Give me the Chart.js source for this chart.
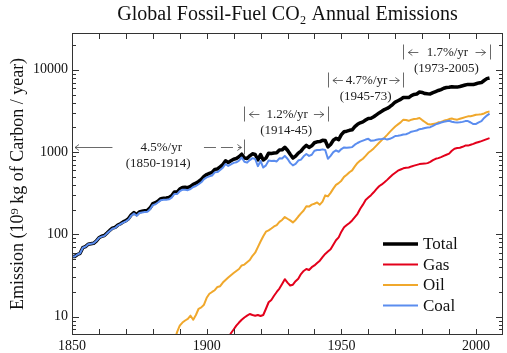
<!DOCTYPE html>
<html lang="en">
<head>
    <meta charset="UTF-8">
    <title>Global Fossil-Fuel CO2 Annual Emissions</title>
    <!-- Chart.js -->
    <script src="https://cdn.jsdelivr.net/npm/chart.js"></script>
    <style>
        html, body { margin: 0; padding: 0; background: #fff; }
        #wrap { width: 507px; height: 353px; }
    </style>
</head>
<body>
<div id="wrap"><canvas id="emissions" width="507" height="353"></canvas></div>
<script>
// --- Data (10^9 kg of carbon per year), one value per year from the start year ---
const totalStart = 1850;
const totalEmission = [
    54, 54, 57, 59, 69, 71, 76, 77, 78, 83,
    91, 95, 97, 104, 112, 119, 122, 130, 135, 142,
    147, 156, 173, 184, 174, 188, 191, 194, 196, 210,
    236, 243, 256, 272, 275, 277, 281, 295, 327, 327,
    356, 372, 374, 370, 383, 406, 419, 440, 465, 507,
    534, 552, 566, 617, 624, 663, 707, 784, 750, 785,
    819, 836, 879, 943, 850, 838, 901, 955, 936, 806,
    932, 803, 845, 970, 963, 975, 983, 1062, 1065, 1145,
    1053, 940, 847, 893, 973, 1027, 1130, 1209, 1142, 1192,
    1299, 1334, 1342, 1391, 1383, 1160, 1238, 1392, 1469, 1419,
    1630, 1768, 1796, 1841, 1865, 2043, 2177, 2270, 2330, 2454,
    2569, 2580, 2686, 2833, 2995, 3130, 3288, 3393, 3566, 3780,
    4053, 4208, 4376, 4614, 4623, 4596, 4864, 5026, 5087, 5369,
    5315, 5152, 5113, 5094, 5280, 5439, 5607, 5752, 5965, 6097,
    6127, 6217, 6164, 6162, 6266, 6398, 6542, 6651, 6643, 6610,
    6765, 6927, 6996, 7416, 7807, 7950
];

const coalStart = 1850;
const coalEmission = [
    54, 54, 57, 59, 69, 71, 76, 77, 78, 83,
    91, 94, 96, 103, 110, 117, 120, 128, 133, 139,
    144, 152, 169, 179, 169, 182, 185, 187, 189, 202,
    227, 233, 246, 261, 263, 264, 267, 280, 310, 309,
    335, 349, 350, 345, 356, 377, 388, 407, 430, 470,
    493, 508, 520, 568, 572, 606, 646, 717, 679, 710,
    740, 752, 788, 860, 765, 745, 800, 845, 825, 675,
    780, 650, 690, 790, 780, 785, 770, 840, 835, 900,
    830, 740, 690, 720, 790, 810, 890, 950, 900, 930,
    1040, 1060, 1060, 1080, 1060, 830, 900, 1000, 1050, 1010,
    1090, 1140, 1130, 1140, 1150, 1230, 1290, 1340, 1380, 1420,
    1450, 1370, 1380, 1410, 1430, 1440, 1460, 1420, 1450, 1500,
    1570, 1580, 1600, 1640, 1650, 1700, 1770, 1800, 1830, 1900,
    1921, 1960, 1990, 2010, 2080, 2170, 2230, 2290, 2340, 2370,
    2400, 2340, 2310, 2290, 2300, 2330, 2380, 2380, 2290, 2190,
    2200, 2300, 2380, 2600, 2780, 2930
];

const oilStart = 1885;
const oilEmission = [
    3, 3.5, 4, 5, 6.5,
    7.8, 8.5, 9, 9.4, 10.3, 9.2, 10.5, 12.5, 13, 14,
    17, 19, 20, 21, 23, 23.5, 26, 28, 30, 32,
    34, 36, 38, 42, 43, 46, 49, 55, 60, 70,
    82, 95, 108, 112, 118, 125, 130, 142, 150, 163,
    155, 148, 140, 150, 165, 180, 195, 220, 218, 230,
    236, 245, 230, 250, 298, 290, 320, 360, 400, 420,
    450, 500, 530, 570, 600, 670, 740, 790, 830, 900,
    980, 1040, 1110, 1200, 1300, 1400, 1500, 1620, 1760, 1900,
    2050, 2170, 2300, 2480, 2450, 2400, 2480, 2520, 2540, 2600,
    2450, 2320, 2200, 2170, 2200, 2220, 2300, 2330, 2400, 2450,
    2520, 2560, 2500, 2480, 2540, 2600, 2660, 2720, 2730, 2780,
    2850, 2860, 2880, 2950, 3060, 3110
];

const gasStart = 1905;
const gasEmission = [
    4, 4.5, 5, 5.5, 6.3,
    7, 7.8, 8.5, 9.2, 9.8, 10.3, 10.8, 10.5, 10.3, 10.5,
    10.2, 10.5, 12.5, 15, 16, 18, 20, 22, 25, 28.6,
    26, 24, 24.5, 27, 29, 33, 36, 38, 37, 40,
    42, 45, 48, 53, 58, 62, 66, 75, 85, 92,
    108, 122, 130, 138, 148, 162, 178, 205, 230, 262,
    280, 300, 325, 355, 385, 405, 430, 460, 495, 530,
    561, 595, 615, 635, 645, 650, 670, 685, 700, 715,
    720, 725, 735, 760, 800, 830, 845, 870, 900, 930,
    960, 1040, 1100, 1120, 1130, 1160, 1200, 1200, 1230, 1260,
    1300, 1330, 1360, 1400, 1440, 1480
];

// Tick labels
const xTickLabels = [1850, 1900, 1950, 2000];
const yTickLabels = [10, 100, 1000, 10000];

// Growth-rate notes drawn above the curves
const rateNotes = [
    { from: 1850, to: 1914, rate: '4.5%/yr', span: '(1850-1914)', level: 1160 },
    { from: 1914, to: 1945, rate: '1.2%/yr', span: '(1914-45)', level: 2900 },
    { from: 1945, to: 1973, rate: '4.7%/yr', span: '(1945-73)', level: 7500 },
    { from: 1973, to: 2005, rate: '1.7%/yr', span: '(1973-2005)', level: 16400 }
];

const serif = "'Liberation Serif', 'Times New Roman', serif";
Chart.defaults.font.family = serif;

function toPoints(start, values) {
    return values.map((v, i) => ({ x: start + i, y: v }));
}

// frame with inward tick marks on all four sides
const frameAndTicks = {
    id: 'frameAndTicks',
    afterDatasetsDraw(chart) {
        const { ctx, chartArea: a, scales: { x, y } } = chart;
        ctx.save();
        ctx.strokeStyle = '#333';
        ctx.lineWidth = 1;
        ctx.strokeRect(a.left + 0.5, a.top + 0.5, a.width - 1, a.height - 1);
        ctx.beginPath();
        for (let yr = x.min + 10; yr < x.max; yr += 10) {
            const px = Math.round(x.getPixelForValue(yr)) + 0.5;
            ctx.moveTo(px, a.bottom); ctx.lineTo(px, a.bottom - 6);
            ctx.moveTo(px, a.top); ctx.lineTo(px, a.top + 6);
        }
        for (let dec = 1; dec <= 10000; dec *= 10) {
            for (let m = 1; m <= 9; m++) {
                const v = m * dec;
                if (v <= y.min || v >= y.max) continue;
                const py = Math.round(y.getPixelForValue(v)) + 0.5;
                const len = m === 1 ? 7 : 4;
                ctx.moveTo(a.left, py); ctx.lineTo(a.left + len, py);
                ctx.moveTo(a.right, py); ctx.lineTo(a.right - len, py);
            }
        }
        ctx.stroke();
        ctx.restore();
    }
};

function arrow(ctx, from, to, py, dashed) {
    ctx.save();
    if (dashed) ctx.setLineDash([12, 5]);
    ctx.beginPath();
    ctx.moveTo(from, py); ctx.lineTo(to, py);
    ctx.stroke();
    ctx.restore();
    const d = to > from ? -4 : 4;
    ctx.beginPath();
    ctx.moveTo(to + d, py - 3); ctx.lineTo(to, py); ctx.lineTo(to + d, py + 3);
    ctx.stroke();
}

const rateLabels = {
    id: 'rateLabels',
    afterDraw(chart) {
        const { ctx, chartArea: a, scales: { x, y } } = chart;
        ctx.save();
        ctx.font = `13px ${serif}`;
        ctx.fillStyle = '#222';
        ctx.strokeStyle = '#444';
        ctx.lineWidth = 0.8;
        ctx.textAlign = 'center';
        ctx.textBaseline = 'middle';
        rateNotes.forEach(n => {
            const x1 = x.getPixelForValue(n.from);
            const x2 = x.getPixelForValue(n.to);
            const xm = (x1 + x2) / 2;
            const py = Math.round(y.getPixelForValue(n.level)) + 0.5;
            const w = ctx.measureText(n.rate).width;
            const side = (x2 - x1 - w) / 2;
            const tx = side > 40 ? xm + 3 : xm + 1;
            ctx.fillText(n.rate, tx, py);
            ctx.fillText(n.span, xm, py + 16);
            if (side > 40) {
                arrow(ctx, tx - w / 2 - 28, x1 + 3, py, false);
                arrow(ctx, tx + w / 2 + 22, x2 - 3, py, true);
            } else {
                arrow(ctx, x1 + 15, x1 + 5, py, false);
                arrow(ctx, x2 - 14, x2 - 4, py, false);
            }
            ctx.beginPath();
            [x1, x2].forEach(bx => {
                if (bx <= a.left + 2) return;
                const bxp = Math.round(bx) + 0.5;
                ctx.moveTo(bxp, py - 8); ctx.lineTo(bxp, py + 7);
            });
            ctx.stroke();
        });
        ctx.restore();
    }
};

const cornerLegend = {
    id: 'cornerLegend',
    afterDraw(chart) {
        const { ctx, chartArea: a } = chart;
        ctx.save();
        ctx.font = `17px ${serif}`;
        ctx.textBaseline = 'middle';
        ctx.textAlign = 'left';
        chart.data.datasets.forEach((ds, i) => {
            const rowY = a.bottom - 91 + i * 20.5;
            ctx.strokeStyle = ds.borderColor;
            ctx.lineWidth = ds.borderWidth;
            ctx.beginPath();
            ctx.moveTo(a.right - 120, rowY); ctx.lineTo(a.right - 85, rowY);
            ctx.stroke();
            ctx.fillStyle = '#111';
            ctx.fillText(ds.label, a.right - 80, rowY + 1);
        });
        ctx.restore();
    }
};

const ctx = document.getElementById('emissions').getContext('2d');
new Chart(ctx, {
    type: 'line',
    data: {
        datasets: [
            { label: 'Total', data: toPoints(totalStart, totalEmission), borderColor: '#000000', borderWidth: 3.5, order: 5 },
            { label: 'Gas', data: toPoints(gasStart, gasEmission), borderColor: '#e3001b', borderWidth: 2, order: 2 },
            { label: 'Oil', data: toPoints(oilStart, oilEmission), borderColor: '#f0a82c', borderWidth: 2, order: 3 },
            { label: 'Coal', data: toPoints(coalStart, coalEmission), borderColor: '#5b8def', borderWidth: 2, order: 1 }
        ]
    },
    options: {
        responsive: false,
        animation: false,
        devicePixelRatio: 1,
        layout: { padding: { left: 0, right: 4, top: 0, bottom: 0 } },
        elements: { point: { radius: 0 }, line: { tension: 0, borderJoinStyle: 'round' } },
        plugins: {
            legend: { display: false },
            tooltip: { enabled: false },
            title: {
                display: true,
                fullSize: false,
                text: 'Global Fossil-Fuel CO₂ Annual Emissions',
                color: '#111',
                font: { family: serif, size: 20, weight: 'normal' },
                padding: { top: 3, bottom: 6 }
            }
        },
        scales: {
            x: {
                type: 'linear',
                min: 1850,
                max: 2010,
                grid: { display: false, drawTicks: false },
                border: { display: false },
                ticks: { color: '#111', font: { size: 14 }, padding: 3, autoSkip: false, maxRotation: 0, callback: v => String(v) },
                afterBuildTicks: s => { s.ticks = xTickLabels.map(v => ({ value: v })); },
                afterFit: s => { s.height = 18; }
            },
            y: {
                type: 'logarithmic',
                min: 6,
                max: 28000,
                grid: { display: false, drawTicks: false },
                border: { display: false },
                ticks: { color: '#111', font: { size: 14 }, padding: 4, autoSkip: false, callback: v => String(v) },
                afterBuildTicks: s => { s.ticks = yTickLabels.map(v => ({ value: v })); },
                afterFit: s => { s.width = 72; },
                title: {
                    display: true,
                    text: 'Emission (10⁹ kg of Carbon / year)',
                    color: '#111',
                    font: { family: serif, size: 18 },
                    padding: { top: 7, bottom: 0 }
                }
            }
        }
    },
    plugins: [frameAndTicks, rateLabels, cornerLegend]
});
</script>
</body>
</html>
